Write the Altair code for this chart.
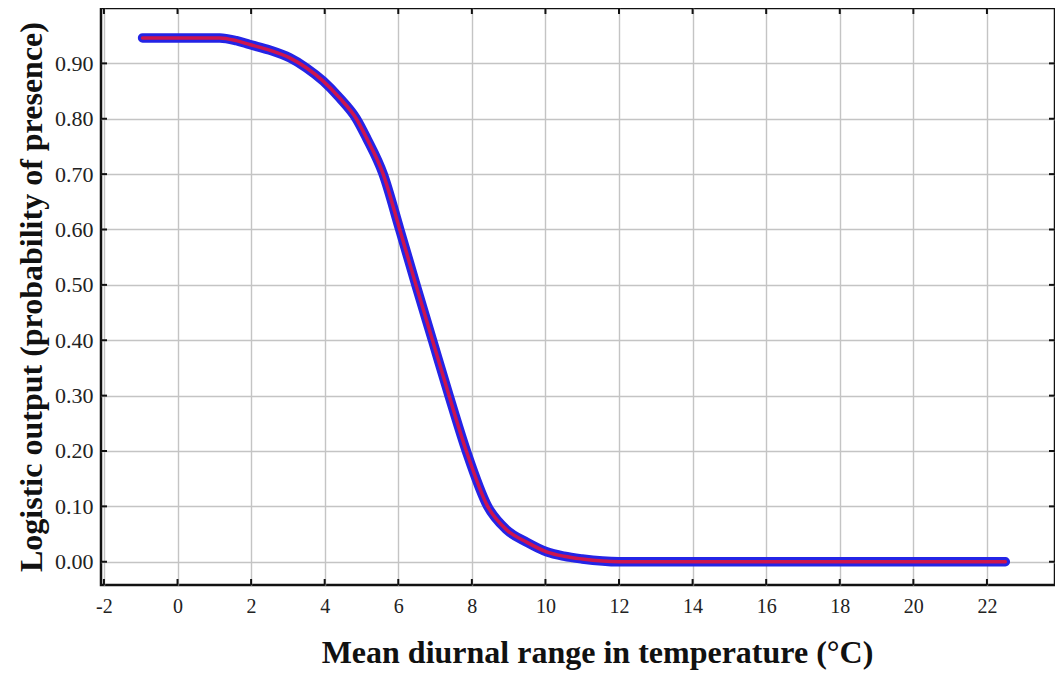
import altair as alt
import pandas as pd

# curve
curve_x = [-0.95, 0.0, 1.15, 1.6, 1.96, 2.5, 3.05, 3.5, 3.96, 4.4, 4.86, 5.14, 5.59, 6.04, 6.48,
           6.93, 7.38, 7.85, 8.43, 8.94, 9.5, 10.03, 10.5, 11.0, 12.0, 14.0, 18.0, 22.5]
curve_y = [0.946, 0.946, 0.946, 0.941, 0.934, 0.924, 0.91, 0.892, 0.868, 0.838, 0.80, 0.765, 0.70,
           0.60, 0.50, 0.40, 0.30, 0.20, 0.10, 0.058, 0.035, 0.018, 0.010, 0.005, 0.0, 0.0, 0.0, 0.0]

x_ticks = [-2, 0, 2, 4, 6, 8, 10, 12, 14, 16, 18, 20, 22]
y_ticks = [0.0, 0.1, 0.2, 0.3, 0.4, 0.5, 0.6, 0.7, 0.8, 0.9]

x_title = "Mean diurnal range in temperature (°C)"
y_title = "Logistic output (probability of presence)"

X_DOMAIN = [-2.08, 23.85]
Y_DOMAIN = [-0.042, 1.0]
W, H = 954, 577

df = pd.DataFrame({"x": curve_x, "y": curve_y})
xt = pd.DataFrame({"v": x_ticks})
yt = pd.DataFrame({"v": y_ticks})

xs = alt.Scale(domain=X_DOMAIN, nice=False, zero=False)
ys = alt.Scale(domain=Y_DOMAIN, nice=False, zero=False)

font = "Liberation Serif"

xaxis = alt.Axis(values=x_ticks, title=x_title, grid=True, gridColor="#c4c4c4", gridWidth=1.4,
                 domain=False, ticks=False, labelFont=font, labelFontSize=20, labelColor="#222",
                 labelPadding=11, titleFont=font, titleFontSize=32, titleFontWeight="bold",
                 titleColor="#111", titlePadding=21, titleX=W / 2 + 19,
                 labelExpr="'' + datum.value")
yaxis = alt.Axis(values=y_ticks, title=y_title, grid=True, gridColor="#c4c4c4", gridWidth=1.4,
                 domain=False, ticks=False, labelFont=font, labelFontSize=22, labelColor="#222",
                 labelPadding=8, titleFont=font, titleFontSize=32, titleFontWeight="bold",
                 titleColor="#111", titlePadding=6, format=".2f")

base = alt.Chart(df)

blue = base.mark_line(color="#2424e6", strokeWidth=9.5, strokeCap="round", strokeJoin="round",
                      interpolate="monotone").encode(
    x=alt.X("x:Q", scale=xs, axis=xaxis),
    y=alt.Y("y:Q", scale=ys, axis=yaxis),
)
red = base.mark_line(color="#cc154e", strokeWidth=3.5, strokeCap="round", strokeJoin="round",
                     interpolate="monotone").encode(
    x=alt.X("x:Q", scale=xs),
    y=alt.Y("y:Q", scale=ys),
)

tick_len = 6
xb = alt.Chart(xt).mark_rule(color="#111", strokeWidth=2).encode(
    x=alt.X("v:Q", scale=xs), y=alt.value(H - tick_len), y2=alt.value(H))
xtop = alt.Chart(xt).mark_rule(color="#111", strokeWidth=2).encode(
    x=alt.X("v:Q", scale=xs), y=alt.value(0), y2=alt.value(tick_len))
yl = alt.Chart(yt).mark_rule(color="#111", strokeWidth=2).encode(
    y=alt.Y("v:Q", scale=ys), x=alt.value(0), x2=alt.value(tick_len))
yr = alt.Chart(yt).mark_rule(color="#111", strokeWidth=2).encode(
    y=alt.Y("v:Q", scale=ys), x=alt.value(W - tick_len), x2=alt.value(W))

chart = alt.layer(blue, red, xb, xtop, yl, yr).properties(
    width=W, height=H,
    autosize=alt.AutoSizeParams(type="none"),
    padding={"left": 93, "top": 0, "right": 0, "bottom": 105},
    background="white",
).configure_view(stroke="#111", strokeWidth=2.5)

chart.save("out.html", embed_options={"renderer": "svg", "actions": False})
